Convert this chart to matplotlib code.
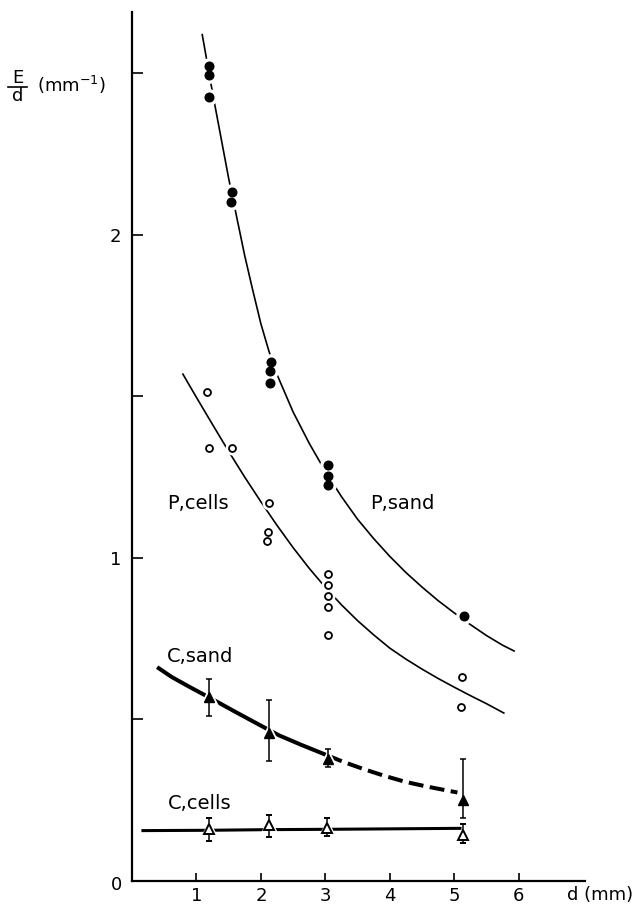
import matplotlib
matplotlib.use("Agg")
import matplotlib.pyplot as plt
import matplotlib.ticker
from matplotlib.lines import Line2D

plt.rcParams['font.family'] = ['DejaVu Sans']
plt.rcParams['mathtext.default'] = 'regular'

# P, sand : filled dots
ps_d = [1.19, 1.20, 1.19, 1.55, 1.53, 2.15, 2.14, 2.14, 3.04, 3.04, 3.04, 5.15]
ps_e = [2.523, 2.495, 2.426, 2.134, 2.101, 1.608, 1.580, 1.543, 1.288, 1.255, 1.226, 0.820]
# curve drawn through P, sand
ps_cd = [1.09, 1.25, 1.50, 1.75, 1.875, 2.00, 2.125, 2.25, 2.50, 2.75, 3.00, 3.25, 3.50, 3.75, 4.00,
         4.25, 4.50, 4.75, 5.00, 5.25, 5.50, 5.75, 5.93]
ps_ce = [2.62, 2.44, 2.175, 1.935, 1.828, 1.725, 1.640, 1.568, 1.452, 1.355, 1.268, 1.190, 1.120, 1.060, 1.005,
         0.955, 0.910, 0.868, 0.830, 0.794, 0.760, 0.730, 0.712]

# P, cells : open circles
pc_d = [1.17, 1.19, 1.545, 2.13, 2.11, 2.09, 3.04, 3.04, 3.04, 3.04, 3.04, 5.12, 5.11]
pc_e = [1.515, 1.340, 1.341, 1.169, 1.080, 1.054, 0.950, 0.916, 0.883, 0.849, 0.762, 0.632, 0.538]
pc_cd = [0.79, 1.00, 1.25, 1.50, 1.75, 2.00, 2.25, 2.50, 2.75, 3.00, 3.25, 3.50, 3.75, 4.00,
         4.25, 4.50, 4.75, 5.00, 5.25, 5.50, 5.77]
pc_ce = [1.569, 1.497, 1.413, 1.330, 1.250, 1.174, 1.101, 1.032, 0.968, 0.909, 0.855, 0.806, 0.762, 0.721,
         0.687, 0.656, 0.627, 0.600, 0.574, 0.549, 0.520]

# C, sand : filled triangles with error bars
cs_d = [1.19, 2.13, 3.04, 5.13]
cs_e = [0.569, 0.457, 0.377, 0.251]
cs_lo = [0.058, 0.085, 0.025, 0.055]
cs_hi = [0.055, 0.103, 0.031, 0.127]
cs_cd = [0.39, 0.62, 0.90, 1.19, 1.60, 1.99, 2.28, 2.62, 2.93, 3.04]
cs_ce = [0.662, 0.631, 0.600, 0.569, 0.524, 0.482, 0.451, 0.422, 0.397, 0.388]
cs_dd = [3.04, 3.29, 3.60, 3.91, 4.24, 4.56, 4.92, 5.05]
cs_de = [0.388, 0.368, 0.346, 0.326, 0.307, 0.293, 0.279, 0.274]

# C, cells : open triangles with error bars
cc_d = [1.19, 2.12, 3.03, 5.13]
cc_e = [0.160, 0.173, 0.165, 0.142]
cc_lo = [0.035, 0.036, 0.025, 0.023]
cc_hi = [0.034, 0.031, 0.029, 0.034]
cc_cd = [0.17, 1.19, 2.12, 3.03, 5.09]
cc_ce = [0.156, 0.157, 0.159, 0.160, 0.163]

fig = plt.figure(figsize=(6.34, 9.08), dpi=100)
ax = fig.add_axes([132/634, 27/908, 453/634, 869/908])
ax.set_xlim(0, 7.03)
ax.set_ylim(0, 2.69)

# curves
ax.plot(ps_cd, ps_ce, color="k", linewidth=1.2, zorder=2)
ax.plot(pc_cd, pc_ce, color="k", linewidth=1.2, zorder=2)
ax.plot(cs_cd, cs_ce, color="k", linewidth=2.9, solid_capstyle="butt", zorder=2)
ax.plot(cs_dd, cs_de, color="k", linewidth=2.9, dashes=(3.7, 1.6), zorder=2)
ax.plot(cc_cd, cc_ce, color="k", linewidth=2.2, zorder=2)

# white halos that break the curves round the points
ax.plot(ps_d, ps_e, linestyle=" ", marker="o", markersize=11, color="white", zorder=3)
ax.plot(pc_d, pc_e, linestyle=" ", marker="o", markersize=9, color="white", zorder=3)
ax.plot(cs_d, cs_e, linestyle=" ", marker="^", markersize=13, color="white", zorder=3)
ax.plot(cc_d, cc_e, linestyle=" ", marker="^", markersize=12, color="white", zorder=3)

# points
ax.plot(ps_d, ps_e, linestyle=" ", marker="o", markersize=6.2, color="k", zorder=4)
ax.plot(pc_d, pc_e, linestyle=" ", marker="o", markersize=5, markerfacecolor="white",
        markeredgecolor="k", markeredgewidth=1.3, zorder=4)
ax.errorbar(cs_d, cs_e, yerr=[cs_lo, cs_hi], fmt="k^", markersize=7.5, ecolor="k",
            elinewidth=1.1, capsize=2.5, capthick=1.1, zorder=4)
ax.errorbar(cc_d, cc_e, yerr=[cc_lo, cc_hi], fmt="^", markersize=7, markerfacecolor="white",
            markeredgecolor="k", markeredgewidth=1.4, ecolor="k",
            elinewidth=1.1, capsize=2.5, capthick=1.1, zorder=4)

# labels of the curves
fs = 14
ax.text(1.02, 1.17, "P,cells", ha="center", va="center", fontsize=fs)
ax.text(4.20, 1.17, "P,sand", ha="center", va="center", fontsize=fs)
ax.text(1.05, 0.694, "C,sand", ha="center", va="center", fontsize=fs)
ax.text(1.05, 0.241, "C,cells", ha="center", va="center", fontsize=fs)

# axes
for s in ["top", "right"]:
    ax.spines[s].set_visible(False)
for s in ["left", "bottom"]:
    ax.spines[s].set_linewidth(1.6)

ax.xaxis.set_major_locator(matplotlib.ticker.FixedLocator([1, 2, 3, 4, 5, 6]))
ax.yaxis.set_major_locator(matplotlib.ticker.FixedLocator([0, 0.5, 1, 1.5, 2, 2.5]))
ax.set_yticklabels(["", "", "1", "", "2", ""])
ax.tick_params(axis="x", direction="in", length=6, width=1.2, pad=4.5, labelsize=13)
ax.tick_params(axis="y", direction="in", length=8, width=1.2, pad=8, labelsize=13)

# origin label, a little below the corner as in the original
fig.text(117/634, 1 - 885/908, "0", ha="center", va="center", fontsize=13)

# axis titles
fig.text(600/634, 1 - 895/908, "d (mm)", ha="center", va="center", fontsize=13)
fig.text(18/634, 1 - 78/908, "E", ha="center", va="center", fontsize=13)
fig.text(18/634, 1 - 96/908, "d", ha="center", va="center", fontsize=13)
fig.add_artist(Line2D([8/634, 27/634], [1 - 87/908, 1 - 87/908], color="k", linewidth=1.2))
fig.text(37/634, 1 - 85/908, "(mm$^{-1}$)", ha="left", va="center", fontsize=13)

fig.savefig("out.png", dpi=100)
